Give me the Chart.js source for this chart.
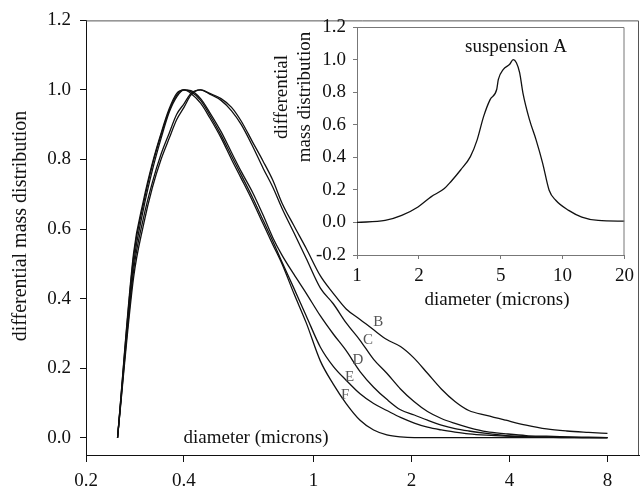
<!DOCTYPE html>
<html>
<head>
<meta charset="utf-8">
<script src="https://cdn.jsdelivr.net/npm/chart.js@4.4.1/dist/chart.umd.min.js"></script>
<style>
  html, body { margin: 0; padding: 0; background: #fff; }
  #wrap { position: relative; width: 640px; height: 488px; }
  #wrap canvas { position: absolute; left: 0; top: 0; }
</style>
</head>
<body>
<div id="wrap">
  <canvas id="mainChart" width="640" height="488"></canvas>
  <canvas id="insetChart" width="640" height="488"></canvas>
</div>
<script>
// main plot: suspensions B-F, diameter in microns (log axis)
let diam = [0.25, 0.28, 0.30, 0.32, 0.34, 0.36, 0.38, 0.40, 0.42, 0.45, 0.48, 0.52, 0.56, 0.60, 0.65, 0.70, 0.75, 0.80, 0.87, 0.95,
            1.05, 1.15, 1.26, 1.39, 1.53, 1.68, 1.85, 2.04, 2.24, 2.47, 2.72, 3.0, 3.4, 3.9, 4.5, 5.2, 6.0, 7.0, 8.0];
let distB = [0, 0.46, 0.61, 0.72, 0.80, 0.86, 0.915, 0.95, 0.985, 1.0, 0.99, 0.975, 0.95, 0.91, 0.85, 0.795, 0.74, 0.675, 0.61, 0.544,
             0.465, 0.415, 0.37, 0.34, 0.31, 0.282, 0.262, 0.228, 0.185, 0.14, 0.104, 0.078, 0.064, 0.05, 0.036, 0.025, 0.019, 0.015, 0.012];
let distC = [0, 0.48, 0.63, 0.735, 0.815, 0.875, 0.93, 0.96, 0.99, 1.0, 0.988, 0.97, 0.94, 0.90, 0.838, 0.775, 0.72, 0.66, 0.59, 0.515,
             0.43, 0.385, 0.33, 0.28, 0.225, 0.185, 0.14, 0.103, 0.075, 0.055, 0.041, 0.029, 0.017, 0.011, 0.006, 0.004, 0.002, 0.001, 0];
let distD = [0, 0.50, 0.655, 0.77, 0.86, 0.935, 0.98, 1.0, 0.998, 0.975, 0.935, 0.88, 0.82, 0.765, 0.705, 0.64, 0.575, 0.525, 0.47, 0.415,
             0.35, 0.298, 0.25, 0.19, 0.145, 0.11, 0.08, 0.065, 0.05, 0.036, 0.026, 0.019, 0.012, 0.006, 0.003, 0.002, 0.001, 0, 0];
let distE = [0, 0.52, 0.67, 0.785, 0.87, 0.94, 0.985, 1.0, 0.995, 0.97, 0.928, 0.87, 0.81, 0.755, 0.69, 0.625, 0.565, 0.505, 0.43, 0.35,
             0.26, 0.205, 0.165, 0.126, 0.098, 0.078, 0.058, 0.042, 0.03, 0.022, 0.016, 0.011, 0.007, 0.004, 0.002, 0.001, 0, 0, 0];
let distF = [0, 0.53, 0.68, 0.79, 0.875, 0.945, 0.99, 1.0, 0.99, 0.962, 0.92, 0.862, 0.80, 0.745, 0.68, 0.615, 0.555, 0.50, 0.415, 0.33,
             0.22, 0.154, 0.098, 0.05, 0.022, 0.008, 0.002, 0, 0, 0, 0, 0, 0, 0, 0, 0, 0, 0, 0];
let curveNames = ['B', 'C', 'D', 'E', 'F'];
let mainTicksX = [0.2, 0.4, 1, 2, 4, 8];
let mainTicksY = [0, 0.2, 0.4, 0.6, 0.8, 1.0, 1.2];

// inset: suspension A
let insetDiam = [1.0, 1.37, 1.65, 1.98, 2.29, 2.66, 2.86, 3.19, 3.56, 3.84, 4.13, 4.44, 4.78, 4.87, 5.15, 5.53, 5.75, 5.96, 6.18, 6.41,
                 6.90, 7.43, 8.0, 8.6, 9.26, 10.7, 12.4, 14.9, 20];
let insetMass = [0, 0.012, 0.043, 0.095, 0.157, 0.208, 0.25, 0.322, 0.404, 0.507, 0.651, 0.754, 0.816, 0.878, 0.94, 0.971, 1.0, 0.981, 0.92, 0.796,
                 0.631, 0.507, 0.363, 0.198, 0.136, 0.074, 0.033, 0.012, 0.008];
let insetTicksX = [1, 2, 5, 10, 20];
let insetTicksY = [-0.2, 0, 0.2, 0.4, 0.6, 0.8, 1.0, 1.2];

const serif = '"Liberation Serif", "Times New Roman", serif';
Chart.defaults.font.family = serif;
Chart.defaults.color = '#111';

// where the curve letters sit (data coords, next to each curve)
let letterSpots = { B: [1.58, 0.331], C: [1.47, 0.28], D: [1.37, 0.223], E: [1.29, 0.174], F: [1.25, 0.123] };

let allDists = [distB, distC, distD, distE, distF];
let mainSets = allDists.map((vals, i) => ({
    label: curveNames[i],
    data: diam.map((d, j) => ({ x: d, y: vals[j] })),
    borderColor: '#111',
    borderWidth: 1.3,
    pointRadius: 0,
    fill: false,
    cubicInterpolationMode: 'monotone'
}));

const mainDecor = {
    id: 'mainDecor',
    afterDraw(chart) {
        const { ctx, chartArea: a, scales } = chart;
        ctx.save();
        ctx.strokeStyle = '#555';
        ctx.lineWidth = 1;
        ctx.beginPath();
        ctx.moveTo(a.left, a.top + 0.5);
        ctx.lineTo(a.right - 0.5, a.top + 0.5);
        ctx.lineTo(a.right - 0.5, a.bottom);
        ctx.stroke();

        ctx.fillStyle = '#111';
        ctx.textAlign = 'center';
        ctx.textBaseline = 'middle';
        ctx.font = '19px ' + serif;
        ctx.fillText('diameter (microns)', 256, 438);

        ctx.save();
        ctx.translate(21, 226);
        ctx.rotate(-Math.PI / 2);
        ctx.font = '20px ' + serif;
        ctx.fillText('differential mass distribution', 0, 0);
        ctx.restore();

        ctx.font = '15px ' + serif;
        ctx.fillStyle = '#555';
        curveNames.forEach(n => {
            const p = letterSpots[n];
            ctx.fillText(n, scales.x.getPixelForValue(p[0]), scales.y.getPixelForValue(p[1]));
        });
        ctx.restore();
    }
};

new Chart(document.getElementById('mainChart'), {
    type: 'line',
    data: { datasets: mainSets },
    options: {
        responsive: false,
        animation: false,
        devicePixelRatio: 1,
        layout: { padding: { top: 16, right: 1, left: 0, bottom: 0 } },
        plugins: { legend: { display: false }, tooltip: { enabled: false } },
        scales: {
            x: {
                type: 'logarithmic',
                min: 0.2,
                max: 10,
                afterFit: s => { s.height = 33; },
                afterBuildTicks: s => { s.ticks = mainTicksX.map(v => ({ value: v })); },
                ticks: { callback: v => String(v), font: { size: 19 }, padding: 8, maxRotation: 0, autoSkip: false },
                grid: { drawOnChartArea: false, tickLength: 7, color: '#111' },
                border: { color: '#111' }
            },
            y: {
                min: -0.05,
                max: 1.2,
                afterFit: s => { s.width = 86; },
                afterBuildTicks: s => { s.ticks = mainTicksY.map(v => ({ value: v })); },
                ticks: { callback: v => v.toFixed(1), font: { size: 19 }, padding: 9 },
                grid: { drawOnChartArea: false, tickLength: 6, color: '#111' },
                border: { color: '#111' }
            }
        }
    },
    plugins: [mainDecor]
});

const insetDecor = {
    id: 'insetDecor',
    afterDraw(chart) {
        const { ctx, chartArea: a } = chart;
        ctx.save();
        ctx.strokeStyle = '#777';
        ctx.lineWidth = 1;
        ctx.beginPath();
        ctx.moveTo(a.left, a.top + 0.5);
        ctx.lineTo(a.right - 0.5, a.top + 0.5);
        ctx.lineTo(a.right - 0.5, a.bottom);
        ctx.stroke();

        ctx.fillStyle = '#111';
        ctx.textAlign = 'center';
        ctx.textBaseline = 'middle';
        ctx.font = '19px ' + serif;
        ctx.fillText('suspension A', 516, 47);
        ctx.fillText('diameter (microns)', 497, 300);

        ctx.save();
        ctx.translate(282, 97);
        ctx.rotate(-Math.PI / 2);
        ctx.fillText('differential', 0, 0);
        ctx.fillText('mass distribution', 0, 23);
        ctx.restore();
        ctx.restore();
    }
};

new Chart(document.getElementById('insetChart'), {
    type: 'line',
    data: {
        datasets: [{
            label: 'suspension A',
            data: insetDiam.map((d, j) => ({ x: d, y: insetMass[j] })),
            borderColor: '#111',
            borderWidth: 1.3,
            pointRadius: 0,
            fill: false,
            cubicInterpolationMode: 'monotone'
        }]
    },
    options: {
        responsive: false,
        animation: false,
        devicePixelRatio: 1,
        layout: { padding: { top: 27, right: 10, left: 0, bottom: 0 } },
        plugins: { legend: { display: false }, tooltip: { enabled: false } },
        scales: {
            x: {
                type: 'logarithmic',
                min: 1,
                max: 20,
                afterFit: s => { s.height = 233; },
                afterBuildTicks: s => { s.ticks = insetTicksX.map(v => ({ value: v })); },
                ticks: { callback: v => String(v), font: { size: 19 }, padding: 6, maxRotation: 0, autoSkip: false },
                grid: { drawOnChartArea: false, tickLength: 4, color: '#777' },
                border: { color: '#777' }
            },
            y: {
                min: -0.2,
                max: 1.2,
                afterFit: s => { s.width = 357; },
                afterBuildTicks: s => { s.ticks = insetTicksY.map(v => ({ value: v })); },
                ticks: { callback: v => v.toFixed(1), font: { size: 19 }, padding: 7 },
                grid: { drawOnChartArea: false, tickLength: 4, color: '#777' },
                border: { color: '#777' }
            }
        }
    },
    plugins: [insetDecor]
});
</script>
</body>
</html>
